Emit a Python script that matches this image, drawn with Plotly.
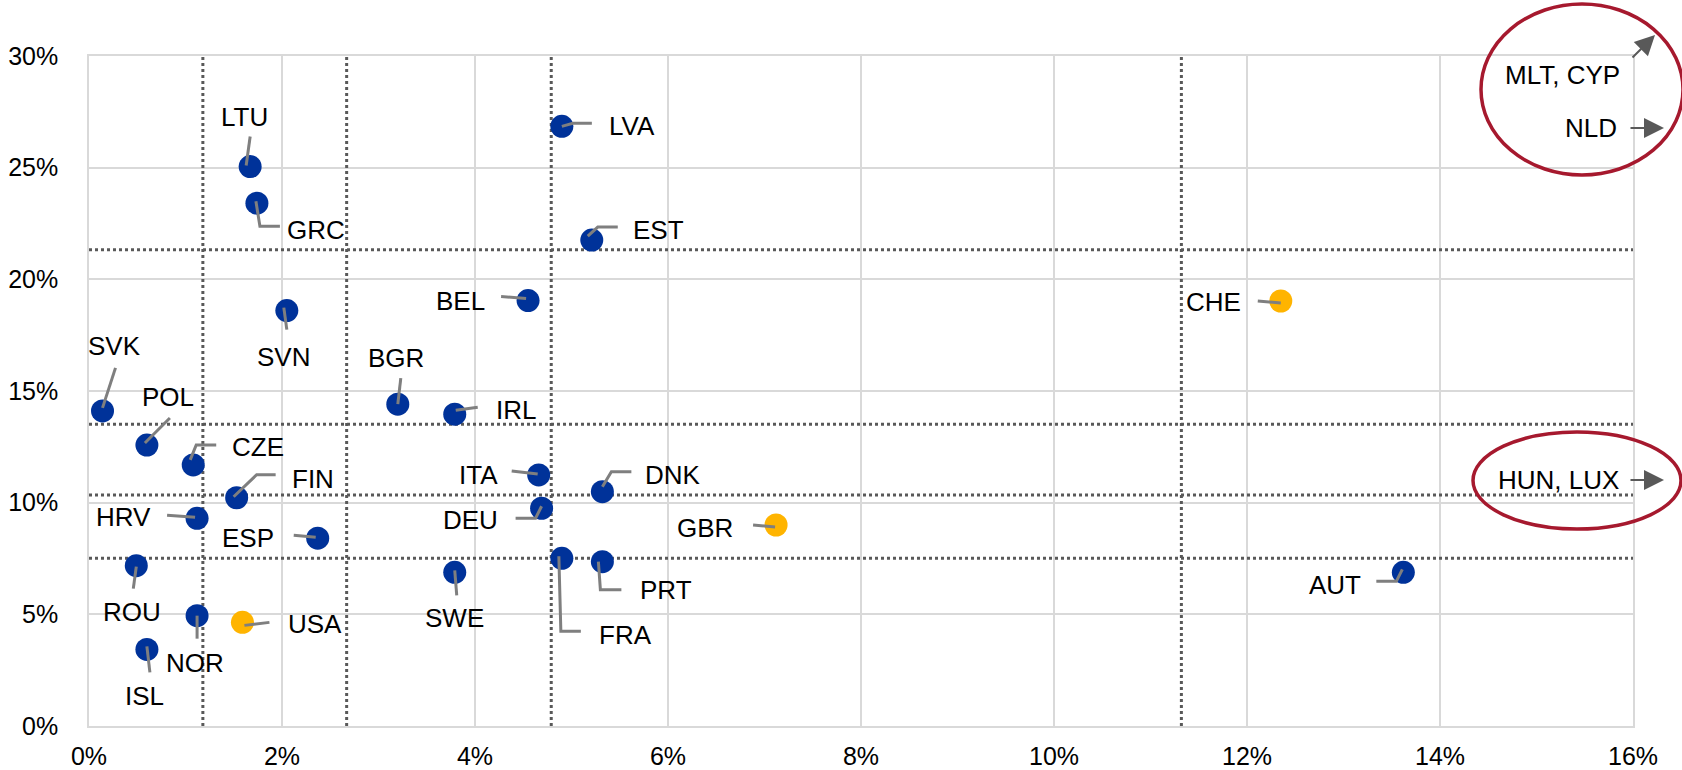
import plotly.graph_objects as go

# Daten (Werte in %)
countries = ["LTU", "GRC", "SVN", "BEL", "LVA", "EST", "SVK", "BGR", "IRL", "POL",
             "CZE", "FIN", "HRV", "ESP", "ITA", "DEU", "ROU", "SWE", "NOR", "ISL",
             "DNK", "FRA", "PRT", "AUT", "USA", "GBR", "CHE"]
x_vals = [1.67, 1.74, 2.05, 4.55, 4.90, 5.21, 0.14, 3.20, 3.79, 0.60,
          1.08, 1.53, 1.12, 2.37, 4.66, 4.69, 0.49, 3.79, 1.12, 0.60,
          5.32, 4.90, 5.32, 13.62, 1.59, 7.12, 12.35]
y_vals = [25.05, 23.41, 18.60, 19.05, 26.85, 21.76, 14.11, 14.41, 13.96, 12.58,
          11.69, 10.22, 9.30, 8.41, 11.24, 9.75, 7.18, 6.88, 4.94, 3.43,
          10.49, 7.51, 7.36, 6.88, 4.64, 9.00, 19.03]
non_eu = ["USA", "GBR", "CHE"]

# Schwellenwerte (gepunktete Linien)
v_refs = [1.18, 2.67, 4.79, 11.32]
h_refs = [7.51, 10.34, 13.51, 21.32]

x_ticks = [0, 2, 4, 6, 8, 10, 12, 14, 16]
x_ticktext = ["0%", "2%", "4%", "6%", "8%", "10%", "12%", "14%", "16%"]
y_ticks = [0, 5, 10, 15, 20, 25, 30]
y_ticktext = ["0%", "5%", "10%", "15%", "20%", "25%", "30%"]

# Werte ausserhalb des Bereichs
outside_top = ["MLT, CYP", "NLD"]
outside_mid = ["HUN, LUX"]

# Layout-Konstanten (Pixel)
W, H = 1682, 770
ML, MR, MT, MB = 89, 49, 56, 44
PW, PH = W - ML - MR, H - MT - MB
PX_X = PW / 16
PX_Y = PH / 30

BLUE = "#003299"
YELLOW = "#FFB400"
GREY = "#7F7F7F"
DARK = "#595959"
RED = "#A6192E"
FONT = "Liberation Sans, Arial, sans-serif"

# Beschriftung: Leader-Punkte (dx, dy in px, y nach unten), Textversatz, Ausrichtung
label_style = {
    "LTU": ([(-4, -1), (0, -30)], (-6, -50), "center"),
    "GRC": ([(-1, -2), (3, 23), (23, 23)], (28, 27), "left"),
    "SVN": ([(-3, -3), (0, 19)], (-3, 46), "center"),
    "BEL": ([(-2, -2), (-27, -4)], (-41, 0), "right"),
    "LVA": ([(0, 0), (11, -3), (30, -3)], (45, 0), "left"),
    "EST": ([(-4, -4), (6, -13), (26, -13)], (39, -10), "left"),
    "SVK": ([(0, -3), (13, -43)], (12, -65), "center"),
    "BGR": ([(0, 0), (3, -26)], (-2, -46), "center"),
    "IRL": ([(1, -4), (23, -7)], (39, -4), "left"),
    "POL": ([(-2, -2), (23, -27)], (21, -48), "center"),
    "CZE": ([(-3, -5), (3, -20), (23, -20)], (37, -18), "left"),
    "FIN": ([(-3, -1), (20, -23), (39, -23)], (53, -19), "left"),
    "HRV": ([(-2, -1), (-30, -3)], (-44, -1), "right"),
    "ESP": ([(-2, -1), (-24, -3)], (-42, 0), "right"),
    "ITA": ([(-1, -1), (-27, -4)], (-39, 0), "right"),
    "DEU": ([(0, -2), (-6, 10), (-26, 10)], (-42, 12), "right"),
    "ROU": ([(0, 1), (-3, 23)], (-4, 46), "center"),
    "SWE": ([(0, -2), (2, 23)], (0, 46), "center"),
    "NOR": ([(0, 0), (0, 23)], (-2, 47), "center"),
    "ISL": ([(0, -3), (3, 23)], (-2, 47), "center"),
    "DNK": ([(0, -5), (9, -20), (29, -20)], (41, -17), "left"),
    "FRA": ([(-3, -2), (-1, 73), (19, 73)], (35, 77), "left"),
    "PRT": ([(-4, 0), (-2, 28), (19, 28)], (36, 28), "left"),
    "AUT": ([(-1, -3), (-7, 9), (-27, 9)], (-40, 13), "right"),
    "USA": ([(2, 3), (27, 0)], (44, 2), "left"),
    "GBR": ([(-1, 2), (-23, 0)], (-41, 3), "right"),
    "CHE": ([(0, 2), (-23, 0)], (-38, 1), "right"),
}


def px_to_paper(px, py):
    return (px - ML) / PW, 1 - (py - MT) / PH


fig = go.Figure()

# Punkte
colors = [YELLOW if c in non_eu else BLUE for c in countries]
fig.add_trace(go.Scatter(x=x_vals, y=y_vals, mode="markers",
                         marker=dict(size=23, color=colors, line=dict(width=0)),
                         text=countries, hoverinfo="text", showlegend=False))

# Verbindungslinien zu den Beschriftungen
lx, ly = [], []
for c, x, y in zip(countries, x_vals, y_vals):
    pts = label_style[c][0]
    for dx, dy in pts:
        lx.append(x + dx / PX_X)
        ly.append(y - dy / PX_Y)
    lx.append(None)
    ly.append(None)
fig.add_trace(go.Scatter(x=lx, y=ly, mode="lines", line=dict(color=GREY, width=3),
                         hoverinfo="skip", showlegend=False))

# Beschriftungen
for c, x, y in zip(countries, x_vals, y_vals):
    _, (tx, ty), anchor = label_style[c]
    fig.add_annotation(x=x, y=y, text=c, showarrow=False, xshift=tx, yshift=-ty,
                       xanchor=anchor, yanchor="middle",
                       font=dict(family=FONT, size=26, color="black"))

# Gepunktete Schwellenlinien
for v in v_refs:
    fig.add_shape(type="line", x0=v, x1=v, y0=0, y1=30, layer="between",
                  line=dict(color=DARK, width=3, dash="3px,3px"))
for h in h_refs:
    fig.add_shape(type="line", x0=0, x1=16, y0=h, y1=h, layer="between",
                  line=dict(color=DARK, width=3, dash="3px,3px"))

# Ellipsen fuer Werte ausserhalb
for (x0, y0, x1, y1) in [(1481, 4, 1683, 175), (1473, 432, 1681, 529)]:
    p0 = px_to_paper(x0, y1)
    p1 = px_to_paper(x1, y0)
    fig.add_shape(type="circle", xref="paper", yref="paper",
                  x0=p0[0], y0=p0[1], x1=p1[0], y1=p1[1],
                  line=dict(color=RED, width=3.5))

# Texte und Pfeile in den Ellipsen
out_labels = [(outside_top[0], 1622, 75), (outside_top[1], 1619, 128), (outside_mid[0], 1621, 480)]
for t, px, py in out_labels:
    xp, yp = px_to_paper(px, py)
    fig.add_annotation(x=xp, y=yp, xref="paper", yref="paper", text=t, showarrow=False,
                       xanchor="right", yanchor="middle",
                       font=dict(family=FONT, size=26, color="black"))

arrows = [(1655, 35, -24, 24), (1664, 128, -35, 0), (1664, 480, -35, 0)]
for px, py, ax, ay in arrows:
    xp, yp = px_to_paper(px, py)
    fig.add_annotation(x=xp, y=yp, xref="paper", yref="paper", text="", showarrow=True,
                       ax=ax, ay=ay, arrowhead=2, arrowsize=2, arrowwidth=2,
                       arrowcolor=DARK, standoff=0)

fig.update_layout(
    width=W, height=H,
    margin=dict(l=ML, r=MR, t=MT, b=MB, autoexpand=False),
    plot_bgcolor="white", paper_bgcolor="white",
    font=dict(family=FONT, size=25, color="black"),
    showlegend=False,
)
fig.update_xaxes(range=[0, 16], tickvals=x_ticks, ticktext=x_ticktext,
                 showgrid=True, gridcolor="#D9D9D9", gridwidth=1.5,
                 showline=True, linecolor="#D9D9D9", linewidth=1.5, mirror=True,
                 zeroline=False, ticks="", ticklabelstandoff=7, automargin=False)
fig.update_yaxes(range=[0, 30], tickvals=y_ticks, ticktext=y_ticktext,
                 showgrid=True, gridcolor="#D9D9D9", gridwidth=1.5,
                 showline=True, linecolor="#D9D9D9", linewidth=1.5, mirror=True,
                 zeroline=False, ticks="", ticklabelstandoff=24, automargin=False)

# Body-Rand entfernen, damit die Grafik genau ins Fenster passt
fig.write_html("out.html", config={"displayModeBar": False},
               post_script="document.body.style.margin = '0px';")
